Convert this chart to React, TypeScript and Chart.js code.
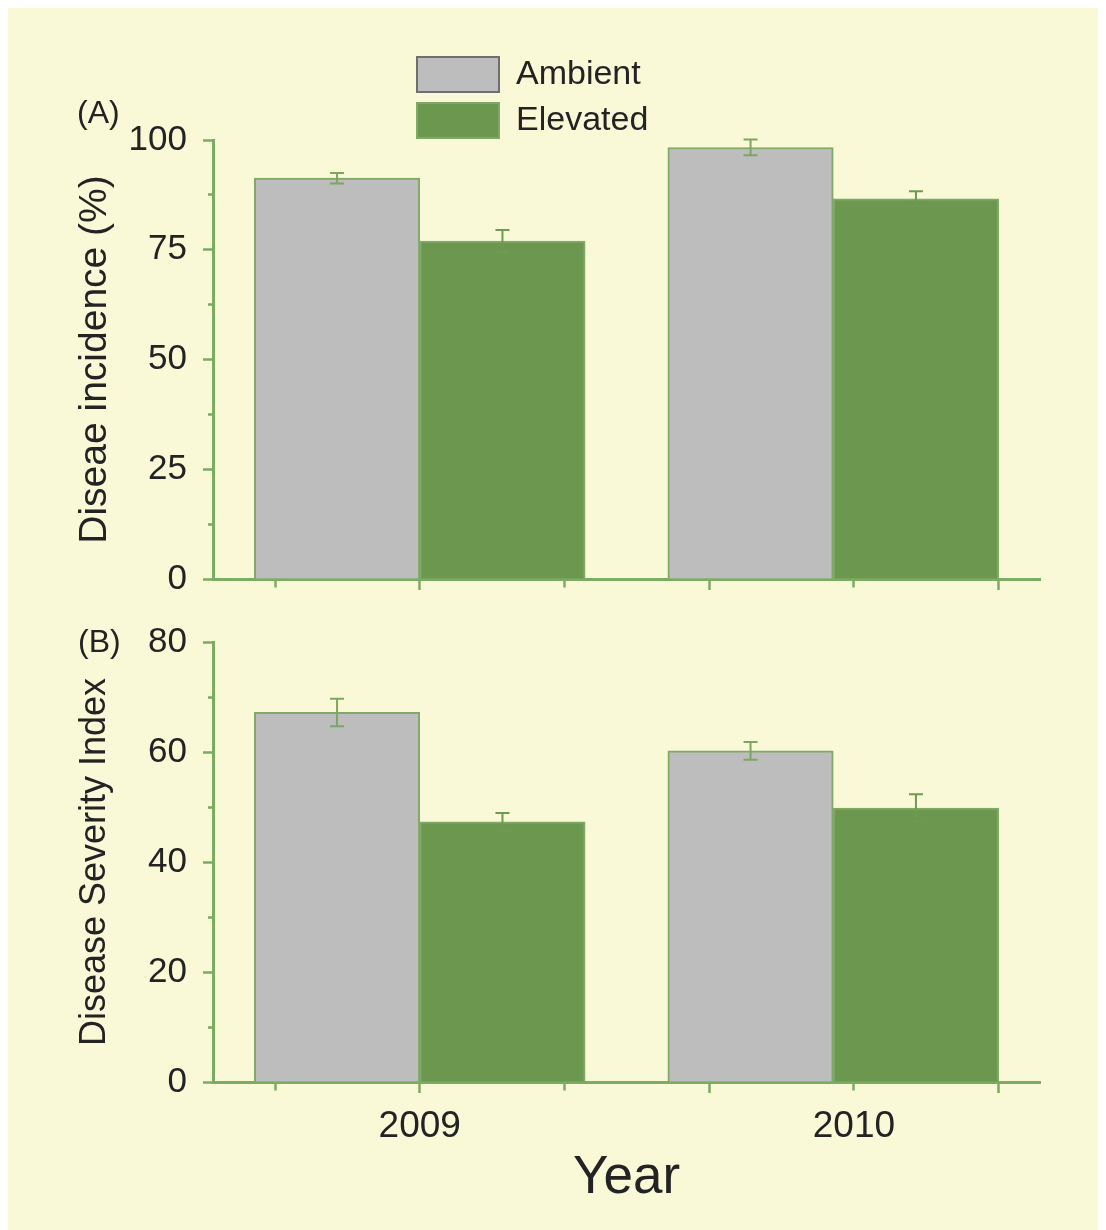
import React, { useEffect, useRef } from 'react';
import { Chart, registerables } from 'chart.js';

Chart.register(...registerables);

// ---------- data ----------
const categories = ['2009', '2010'];
const seriesNames = ['Ambient', 'Elevated'];

const incidenceAmbient = [91.3, 98.3];
const incidenceAmbientErr = [1.2, 1.8];
const incidenceElevated = [77.0, 86.6];
const incidenceElevatedErr = [2.5, 1.7];

const severityAmbient = [67.2, 60.2];
const severityAmbientErr = [2.5, 1.6];
const severityElevated = [47.3, 49.8];
const severityElevatedErr = [1.6, 2.5];

const incidenceTicks = [0, 25, 50, 75, 100];
const severityTicks = [0, 20, 40, 60, 80];

const xTickValues = [-0.35, 0, 0.35, 0.7, 1.05, 1.4];
const xTickLabels = ['', categories[0], '', '', categories[1], ''];

// ---------- styles ----------
const BG = '#f9f8d7';
const AXIS = '#7cab62';
const TEXT = '#232323';
const GRAY_FILL = '#bdbdbd';
const GREEN_FILL = '#6b974f';
const BAR_BORDER = '#80a968';
const LEGEND_BORDERS = ['#6f6f6f', '#80a968'];
const ERR_COLORS = ['#7fa562', '#6e9a52'];
const FONT = '"Liberation Sans", Arial, Helvetica, sans-serif';

Chart.defaults.font.family = FONT;
Chart.defaults.color = TEXT;

const errorBarPlugin = {
  id: 'errorBars',
  afterDatasetsDraw(chart: any) {
    const ctx = chart.ctx;
    const yScale = chart.scales.y;
    chart.data.datasets.forEach((ds: any, di: number) => {
      if (!ds.errors) return;
      const meta = chart.getDatasetMeta(di);
      ctx.save();
      ctx.strokeStyle = ds.errorColor;
      ctx.lineWidth = 2;
      meta.data.forEach((bar: any, i: number) => {
        const v = ds.data[i].y;
        const e = ds.errors[i];
        const x = bar.x;
        const yT = yScale.getPixelForValue(v + e);
        const yB = yScale.getPixelForValue(v - e);
        ctx.beginPath();
        ctx.moveTo(x, yT);
        ctx.lineTo(x, yB);
        ctx.moveTo(x - 7, yT);
        ctx.lineTo(x + 7, yT);
        ctx.moveTo(x - 7, yB);
        ctx.lineTo(x + 7, yB);
        ctx.stroke();
      });
      ctx.restore();
    });
  },
};

const panelLabelPlugin = {
  id: 'panelLabel',
  afterDraw(chart: any, _args: any, opts: any) {
    if (!opts || !opts.text) return;
    const ctx = chart.ctx;
    ctx.save();
    ctx.font = `${opts.size}px ${FONT}`;
    ctx.fillStyle = TEXT;
    ctx.textAlign = 'left';
    ctx.textBaseline = 'middle';
    ctx.fillText(opts.text, opts.x, opts.y);
    ctx.restore();
  },
};

const legendPlacerPlugin = {
  id: 'legendPlacer',
  afterLayout(chart: any, _args: any, opts: any) {
    const lg = chart.legend;
    if (!lg || !opts || opts.left === undefined) return;
    const dx = opts.left - lg.left;
    const dy = opts.top - lg.top;
    lg.left += dx;
    lg.right += dx;
    lg.top += dy;
    lg.bottom += dy;
  },
};

type PanelParams = {
  ambient: number[];
  ambientErr: number[];
  elevated: number[];
  elevatedErr: number[];
  yTicks: number[];
  yTitle: string;
  yTitleSize: number;
  showX: boolean;
  xHeight: number;
  topPad: number;
  legend: boolean;
  panel: { text: string; x: number; y: number; size: number };
};

function buildConfig(p: PanelParams): any {
  const step = (p.yTicks[1] - p.yTicks[0]) / 2;
  return {
    type: 'bar',
    data: {
      datasets: [
        {
          label: seriesNames[0],
          data: categories.map((_, i) => ({ x: i, y: p.ambient[i] })),
          backgroundColor: GRAY_FILL,
          borderColor: BAR_BORDER,
          borderWidth: 2,
          errors: p.ambientErr,
          errorColor: ERR_COLORS[0],
          barThickness: 'flex',
          categoryPercentage: 0.8,
          barPercentage: 1,
        },
        {
          label: seriesNames[1],
          data: categories.map((_, i) => ({ x: i, y: p.elevated[i] })),
          backgroundColor: GREEN_FILL,
          borderColor: BAR_BORDER,
          borderWidth: 2,
          errors: p.elevatedErr,
          errorColor: ERR_COLORS[1],
          barThickness: 'flex',
          categoryPercentage: 0.8,
          barPercentage: 1,
        },
      ],
    },
    options: {
      responsive: false,
      maintainAspectRatio: false,
      animation: false,
      events: [],
      layout: { padding: { left: 0, right: 66, top: p.topPad, bottom: 0 } },
      scales: {
        x: {
          type: 'linear',
          min: -0.5,
          max: 1.5,
          offset: false,
          afterBuildTicks: (s: any) => {
            s.ticks = xTickValues.map((v) => ({ value: v }));
          },
          afterFit: (s: any) => {
            s.height = p.xHeight;
          },
          grid: {
            display: true,
            offset: false,
            drawOnChartArea: false,
            drawTicks: true,
            tickLength: 11,
            tickWidth: 2.5,
            tickColor: AXIS,
            tickBorderDash: (c: any) => (c.index % 2 === 1 ? [] : [6.5, 100]),
          },
          border: { display: true, color: AXIS, width: 3 },
          ticks: {
            display: p.showX,
            autoSkip: false,
            maxRotation: 0,
            minRotation: 0,
            padding: 12,
            color: TEXT,
            font: { size: 37 },
            callback: (_v: any, i: number) => xTickLabels[i] ?? '',
          },
          title: {
            display: p.showX,
            text: 'Year',
            color: TEXT,
            font: { size: 53 },
            padding: { top: 0, bottom: 20 },
          },
        },
        y: {
          type: 'linear',
          min: p.yTicks[0],
          max: p.yTicks[p.yTicks.length - 1],
          afterFit: (s: any) => {
            s.width = 205;
          },
          grid: {
            display: true,
            drawOnChartArea: false,
            drawTicks: true,
            tickLength: 10,
            tickWidth: 2.5,
            tickColor: AXIS,
            tickBorderDash: (c: any) =>
              c.tick && p.yTicks.includes(c.tick.value) ? [] : [0, 5, 10, 100],
          },
          border: { display: true, color: AXIS, width: 3 },
          ticks: {
            stepSize: step,
            autoSkip: false,
            padding: 16,
            color: TEXT,
            font: { size: 35 },
            callback: (v: any) => (p.yTicks.includes(v) ? String(v) : ''),
          },
          title: {
            display: true,
            text: p.yTitle,
            color: TEXT,
            font: { size: p.yTitleSize },
            padding: { top: 87 - (p.yTitleSize * 1.2) / 2, bottom: 0 },
          },
        },
      },
      plugins: {
        tooltip: { enabled: false },
        legend: p.legend
          ? {
              display: true,
              position: 'chartArea',
              align: 'start',
              labels: {
                boxWidth: 82,
                boxHeight: 35,
                padding: 11,
                color: TEXT,
                font: { size: 34 },
                generateLabels: (chart: any) =>
                  Chart.defaults.plugins.legend.labels
                    .generateLabels(chart)
                    .map((it: any, i: number) => ({
                      ...it,
                      strokeStyle: LEGEND_BORDERS[i],
                      lineWidth: 2,
                    })),
              },
            }
          : { display: false },
        legendPlacer: p.legend ? { left: 398, top: 38 } : {},
        panelLabel: p.panel,
      },
    },
    plugins: [errorBarPlugin, panelLabelPlugin, legendPlacerPlugin],
  };
}

export default function App() {
  const topRef = useRef<HTMLCanvasElement>(null);
  const bottomRef = useRef<HTMLCanvasElement>(null);

  useEffect(() => {
    const c1 = new Chart(
      topRef.current as HTMLCanvasElement,
      buildConfig({
        ambient: incidenceAmbient,
        ambientErr: incidenceAmbientErr,
        elevated: incidenceElevated,
        elevatedErr: incidenceElevatedErr,
        yTicks: incidenceTicks,
        yTitle: 'Diseae incidence (%)',
        yTitleSize: 39,
        showX: false,
        xHeight: 39,
        topPad: 132,
        legend: true,
        panel: { text: '(A)', x: 69, y: 106, size: 32 },
      })
    );
    const c2 = new Chart(
      bottomRef.current as HTMLCanvasElement,
      buildConfig({
        ambient: severityAmbient,
        ambientErr: severityAmbientErr,
        elevated: severityElevated,
        elevatedErr: severityElevatedErr,
        yTicks: severityTicks,
        yTitle: 'Disease Severity Index',
        yTitleSize: 36,
        showX: true,
        xHeight: 148,
        topPad: 44,
        legend: false,
        panel: { text: '(B)', x: 70, y: 45, size: 32 },
      })
    );
    return () => {
      c1.destroy();
      c2.destroy();
    };
  }, []);

  return (
    <div style={{ width: 1098, height: 1222, background: BG, overflow: 'hidden' }}>
      <canvas ref={topRef} width={1098} height={610} style={{ display: 'block' }} />
      <canvas
        ref={bottomRef}
        width={1098}
        height={632}
        style={{ display: 'block', marginTop: -20 }}
      />
    </div>
  );
}
